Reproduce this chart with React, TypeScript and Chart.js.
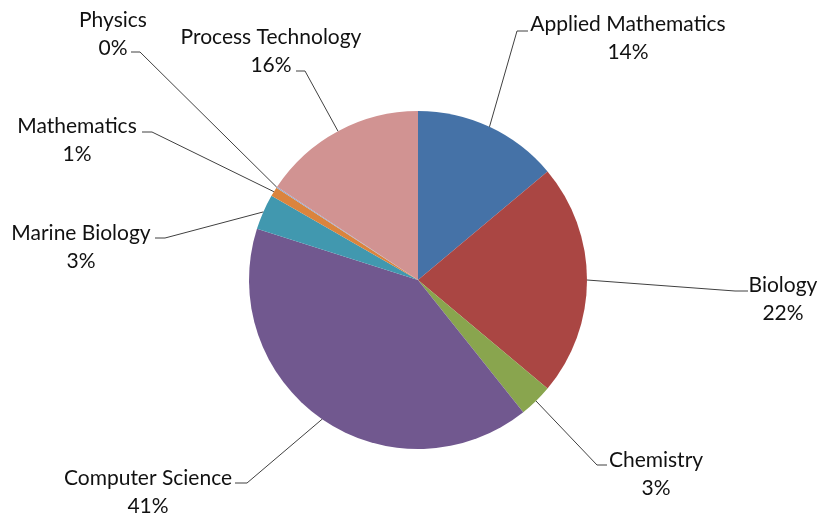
import React, { useEffect, useRef } from "react";
import { Chart, registerables } from "chart.js";

Chart.register(...registerables);

const categories = [
  "Applied Mathematics",
  "Biology",
  "Chemistry",
  "Computer Science",
  "Marine Biology",
  "Mathematics",
  "Physics",
  "Process Technology",
];
const values = [13.9, 22.2, 3.2, 40.6, 3.4, 0.9, 0.1, 15.7];
const colors = ["#4572A7", "#AA4643", "#89A54E", "#71588F", "#4198AF", "#DB843D", "#93A9CF", "#D19392"];

// label layout: elbow point, horizontal end, text center x, first line y
const labelLayout = [
  { ex: 517, ey: 31, hx: 528, tx: 628, ty: 24 },
  { ex: 735, ey: 291, hx: 748, tx: 783, ty: 285 },
  { ex: 597, ey: 465, hx: 607, tx: 656, ty: 460 },
  { ex: 247, ey: 483, hx: 235, tx: 148, ty: 478 },
  { ex: 165, ey: 238, hx: 155, tx: 81, ty: 233 },
  { ex: 152, ey: 132, hx: 142, tx: 77, ty: 126 },
  { ex: 140, ey: 52, hx: 131, tx: 113, ty: 20 },
  { ex: 305, ey: 71, hx: 296, tx: 271, ty: 37 },
];

const FONT = '21px Lato, "Noto Sans", sans-serif';
const LINE_H = 28;

const labelPlugin = {
  id: "outLabels",
  afterDatasetsDraw(chart: any) {
    const ctx = chart.ctx;
    const meta = chart.getDatasetMeta(0);
    const data = chart.data.datasets[0].data as number[];
    const total = data.reduce((a, b) => a + b, 0);
    ctx.save();
    meta.data.forEach((arc: any, i: number) => {
      const p = arc.getProps(["x", "y", "startAngle", "endAngle", "outerRadius"], true);
      const mid = (p.startAngle + p.endAngle) / 2;
      const sx = p.x + Math.cos(mid) * p.outerRadius;
      const sy = p.y + Math.sin(mid) * p.outerRadius;
      const L = labelLayout[i];
      ctx.strokeStyle = "#404040";
      ctx.lineWidth = 1;
      ctx.beginPath();
      ctx.moveTo(sx, sy);
      ctx.lineTo(L.ex, L.ey);
      ctx.lineTo(L.hx, L.ey);
      ctx.stroke();
      ctx.fillStyle = "#111111";
      ctx.font = FONT;
      ctx.textAlign = "center";
      ctx.textBaseline = "middle";
      ctx.fillText(categories[i], L.tx, L.ty);
      ctx.fillText(Math.round((data[i] / total) * 100) + "%", L.tx, L.ty + LINE_H);
    });
    ctx.restore();
  },
};

export default function App() {
  const ref = useRef<HTMLCanvasElement | null>(null);
  useEffect(() => {
    const chart = new Chart(ref.current as HTMLCanvasElement, {
      type: "pie",
      data: {
        labels: categories,
        datasets: [
          {
            data: values,
            backgroundColor: colors,
            borderWidth: 0,
          },
        ],
      },
      options: {
        animation: false,
        responsive: false,
        layout: { padding: { left: 100, right: 86, top: 111, bottom: 72 } },
        plugins: {
          legend: { display: false },
          tooltip: { enabled: false },
        },
      },
      plugins: [labelPlugin],
    });
    return () => chart.destroy();
  }, []);
  return (
    <div style={{ position: "fixed", left: 0, top: 0, width: 822, height: 521, background: "#fff" }}>
      <canvas ref={ref} width={822} height={521} style={{ width: 822, height: 521 }} />
    </div>
  );
}
